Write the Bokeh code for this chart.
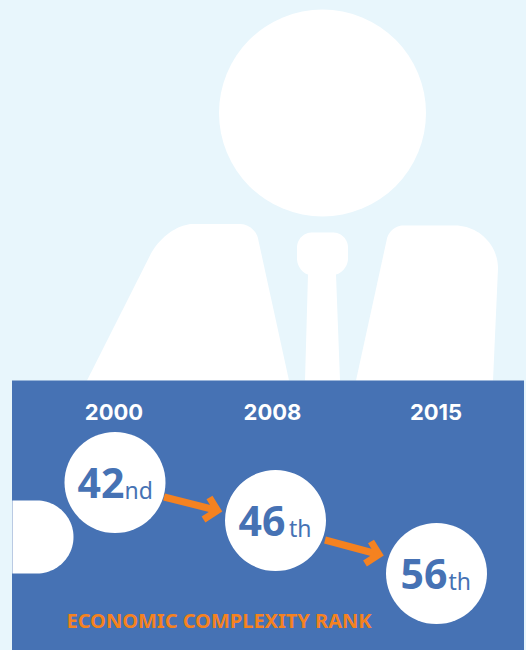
from bokeh.plotting import figure
from bokeh.embed import file_html
from bokeh.resources import INLINE
from bokeh.models import Range1d
from bokeh.core.properties import value

years = ["2000", "2008", "2015"]
ranks = ["42", "46", "56"]
suffixes = ["nd", "th", "th"]
title = "ECONOMIC COMPLEXITY RANK"

BG, BLUE, ORANGE = "#e8f6fc", "#4672b4", "#f58220"
FONT = "Noto Sans"

# layout (page pixels)
cx = [115, 275.5, 436.5]
cy = [482, 520, 573]
year_x = [114, 272.5, 436]
year_y = 411.5
rank_x = [77.5, 238.5, 400.5]
suffix_x = [124.5, 289, 448.5]
R = 50.5
arrow_start = [(164, 496.5), (325, 539.5)]
arrow_tip = [(217.5, 510), (379, 554)]
arrow_arm_a = [(209.5, 497), (371, 541)]
arrow_arm_b = [(203.5, 519), (365, 563)]

def rounded(pts):
    """pts: (x, y) corners, or (x0,y0,cx,cy,x1,y1) rounded corner."""
    k = 0.55
    xs, ys = [], []
    for q in pts:
        if len(q) == 2:
            xs.append(q[0]); ys.append(q[1])
        else:
            ax, ay = q[0] + k*(q[2]-q[0]), q[1] + k*(q[3]-q[1])
            bx, by = q[4] + k*(q[2]-q[4]), q[5] + k*(q[3]-q[5])
            for i in range(25):
                t = i / 24
                u = 1 - t
                xs.append(u**3*q[0] + 3*u*u*t*ax + 3*u*t*t*bx + t**3*q[4])
                ys.append(u**3*q[1] + 3*u*u*t*ay + 3*u*t*t*by + t**3*q[5])
    return xs, ys

p = figure(width=526, height=650, output_backend="svg", toolbar_location=None,
           x_range=Range1d(0.5, 526.5), y_range=Range1d(650, 0), min_border=0)
p.axis.visible = False
p.grid.visible = False
p.outline_line_color = None
p.background_fill_color = BG
p.border_fill_color = BG

# person icon
p.circle(x=[322.5], y=[112.5], radius=103.5, fill_color="white", line_color=None)
shapes = [
    [(87, 380), (150, 255), (150, 255, 165, 223.5, 193, 223.5), (240, 223.5),
     (240, 223.5, 255, 223.5, 258, 238), (289, 380)],
    [(356, 380), (387, 238), (387, 238, 390, 225, 403, 225), (455, 225),
     (455, 225, 498, 225, 498, 268), (493, 380)],
    [(305, 380), (308, 274), (308, 274, 297, 271, 297, 258), (297, 247),
     (297, 247, 297, 232, 312, 232), (333, 232), (333, 232, 348, 232, 348, 247),
     (348, 258), (348, 258, 348, 271, 336, 274), (340, 380)],
]
for s in shapes:
    x, y = rounded(s)
    p.patch(x, y, fill_color="white", line_color=None)

# panel
p.quad(left=[12], right=[524], top=[380], bottom=[650], fill_color=BLUE, line_color=None)

# tab at left edge
x, y = rounded([(12.4, 500), (37, 500), (37, 500, 73.5, 500, 73.5, 536.5),
                (73.5, 536.5, 73.5, 573, 37, 573), (12.4, 573)])
p.patch(x, y, fill_color="white", line_color=None)

# circles
p.circle(x=cx, y=cy, radius=R, fill_color="white", line_color=None)

# arrows
for s, t, a, b in zip(arrow_start, arrow_tip, arrow_arm_a, arrow_arm_b):
    p.line([s[0], t[0]], [s[1], t[1]], line_color=ORANGE, line_width=7)
    p.line([a[0], t[0], b[0]], [a[1], t[1], b[1]], line_color=ORANGE,
           line_width=7, line_join="miter")

# texts
p.text(x=year_x, y=[year_y]*3, text=years, text_color="white", text_font=value("Inter"),
       text_font_style="bold", text_font_size="22px", text_align="center", text_baseline="middle")
p.text(x=rank_x, y=cy, text=ranks, text_color=BLUE,
       text_font=value(FONT), text_font_style="bold", text_font_size="41px",
       text_align="left", text_baseline="middle")
p.text(x=suffix_x, y=[c + 7 for c in cy], text=suffixes, text_color=BLUE,
       text_font=value(FONT), text_font_size="23px", text_align="left", text_baseline="middle")
p.text(x=[219], y=[620], text=[title], text_color=ORANGE, text_font=value(FONT),
       text_font_style="bold", text_font_size="20px", text_align="center", text_baseline="middle")

html = file_html(p, INLINE)
html = html.replace("</head>", "<style>html,body{margin:0;padding:0;background:%s;overflow:hidden}</style></head>" % BG, 1)
open("out.html", "w").write(html)
